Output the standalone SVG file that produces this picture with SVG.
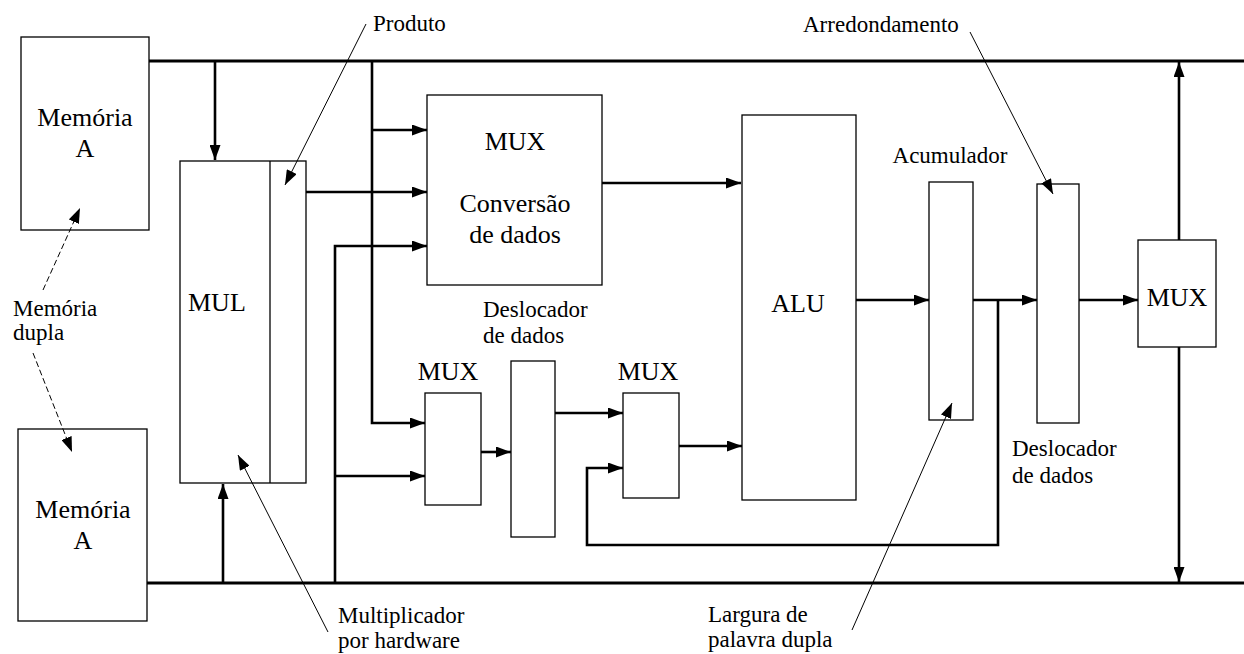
<svg xmlns="http://www.w3.org/2000/svg" width="1244" height="654" viewBox="0 0 1244 654">
<style>
.box{fill:none;stroke:#000;stroke-width:1.3}
.bus{fill:none;stroke:#000;stroke-width:3}
.wire{fill:none;stroke:#000;stroke-width:2.6}
.lead{fill:none;stroke:#000;stroke-width:1}
.dash{fill:none;stroke:#000;stroke-width:1;stroke-dasharray:6 3}
.t{font-family:"Liberation Serif","Times New Roman",serif;font-size:26px;fill:#000}
.l{font-family:"Liberation Serif","Times New Roman",serif;font-size:23px;fill:#000}
.m{text-anchor:middle}
</style>
<defs>
<marker id="ah" markerUnits="userSpaceOnUse" markerWidth="15" markerHeight="11" refX="15" refY="5.5" orient="auto">
<path d="M0,0 L15,5.5 L0,11 z" fill="#000"/>
</marker>
<marker id="ahs" markerUnits="userSpaceOnUse" markerWidth="15" markerHeight="11" refX="15" refY="5.5" orient="auto">
<path d="M0,0 L15,5.5 L0,11 z" fill="#000"/>
</marker>
</defs>

<g id="memA-top">
<rect class="box" x="21" y="37" width="128" height="193"/>
<text class="t m" x="85" y="126">Memória</text>
<text class="t m" x="85" y="157">A</text>
</g>
<g id="memA-bottom">
<rect class="box" x="18" y="429" width="129" height="192"/>
<text class="t m" x="83" y="518">Memória</text>
<text class="t m" x="83" y="549">A</text>
</g>
<g id="mul">
<rect class="box" x="180" y="161" width="126" height="322"/>
<line x1="270" y1="161" x2="270" y2="483" stroke="#000" stroke-width="1.3"/>
<text class="t" x="188" y="311">MUL</text>
</g>
<g id="mux-conv">
<rect class="box" x="427" y="95" width="175" height="190"/>
<text class="t m" x="515" y="150">MUX</text>
<text class="t m" x="515" y="212">Conversão</text>
<text class="t m" x="515" y="243">de dados</text>
</g>
<g id="alu">
<rect class="box" x="742" y="115" width="114" height="385"/>
<text class="t m" x="798" y="312">ALU</text>
</g>
<g id="mux1">
<rect class="box" x="425" y="393" width="56" height="112"/>
<text class="t m" x="448" y="380">MUX</text>
</g>
<g id="shifter">
<rect class="box" x="511" y="361" width="44" height="176"/>
<text class="l" x="483" y="317">Deslocador</text>
<text class="l" x="483" y="343">de dados</text>
</g>
<g id="mux2">
<rect class="box" x="623" y="393" width="56" height="105"/>
<text class="t m" x="648" y="380">MUX</text>
</g>
<g id="accumulator">
<rect class="box" x="929" y="182" width="44" height="238"/>
<text class="l m" x="950" y="163">Acumulador</text>
</g>
<g id="shifter2">
<rect class="box" x="1037" y="184" width="42" height="239"/>
<text class="l" x="1012" y="456">Deslocador</text>
<text class="l" x="1012" y="483">de dados</text>
</g>
<g id="mux-out">
<rect class="box" x="1138" y="240" width="78" height="107"/>
<text class="t m" x="1177" y="306">MUX</text>
</g>
<g id="labels">
<text class="l" x="373" y="31">Produto</text>
<text class="l" x="803" y="32">Arredondamento</text>
<text class="l" x="13" y="316">Memória</text>
<text class="l" x="13" y="340">dupla</text>
<text class="l" x="338" y="623">Multiplicador</text>
<text class="l" x="338" y="648">por hardware</text>
<text class="l" x="708" y="622">Largura de</text>
<text class="l" x="708" y="647">palavra dupla</text>
</g>

<g id="connectors">
<path class="bus" d="M149,61 H1244"/>
<path class="bus" d="M147,583 H1244"/>
<path class="wire" d="M215,61 V160" marker-end="url(#ah)"/>
<path class="wire" d="M223,583 V484" marker-end="url(#ah)"/>
<path class="wire" d="M306,192 H427" marker-end="url(#ah)"/>
<path class="wire" d="M372,61 V423 H425" marker-end="url(#ah)"/>
<path class="wire" d="M372,130 H427" marker-end="url(#ah)"/>
<path class="wire" d="M335,583 V246 H427" marker-end="url(#ah)"/>
<path class="wire" d="M335,476 H425" marker-end="url(#ah)"/>
<path class="wire" d="M602,183 H741" marker-end="url(#ah)"/>
<path class="wire" d="M481,452 H511" marker-end="url(#ah)"/>
<path class="wire" d="M555,413 H623" marker-end="url(#ah)"/>
<path class="wire" d="M679,446 H742" marker-end="url(#ah)"/>
<path class="wire" d="M856,300 H929" marker-end="url(#ah)"/>
<path class="wire" d="M973,300 H1037" marker-end="url(#ah)"/>
<path class="wire" d="M998,300 V545 H587 V468 H623" marker-end="url(#ah)"/>
<path class="wire" d="M1079,300 H1138" marker-end="url(#ah)"/>
<path class="wire" d="M1179,240 V62" marker-end="url(#ah)"/>
<path class="wire" d="M1179,347 V582" marker-end="url(#ah)"/>
<path class="lead" d="M366,24 L285,185" marker-end="url(#ahs)"/>
<path class="lead" d="M970,32 L1053,194" marker-end="url(#ahs)"/>
<path class="dash" d="M43,290 L80,208" marker-end="url(#ahs)"/>
<path class="dash" d="M33,353 L72,452" marker-end="url(#ahs)"/>
<path class="lead" d="M328,632 L238,455" marker-end="url(#ahs)"/>
<path class="lead" d="M852,630 L952,403" marker-end="url(#ahs)"/>
</g>
</svg>
